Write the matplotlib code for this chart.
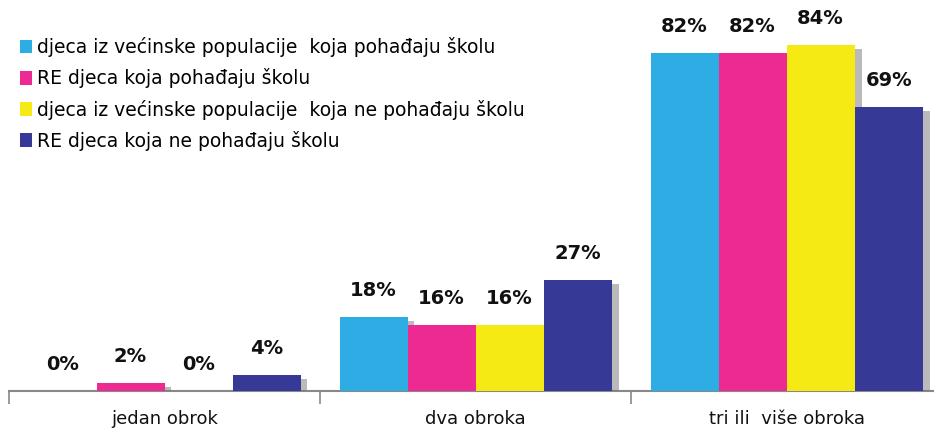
import matplotlib
matplotlib.use("Agg")
import matplotlib.pyplot as plt
import matplotlib.patheffects as pe
from matplotlib.patches import Patch
import numpy as np

categories = ["jedan obrok", "dva obroka", "tri ili  više obroka"]
series_names = [
    "djeca iz većinske populacije  koja pohađaju školu",
    "RE djeca koja pohađaju školu",
    "djeca iz većinske populacije  koja ne pohađaju školu",
    "RE djeca koja ne pohađaju školu",
]
values = [
    [0, 18, 82],
    [2, 16, 82],
    [0, 16, 84],
    [4, 27, 69],
]
colors = ["#2EADE4", "#EC2A91", "#F5EA14", "#373996"]

plt.rcParams['font.family'] = ['DejaVu Sans']

fig = plt.figure(figsize=(9.34, 4.28), dpi=100)
ax = fig.add_axes([9/934, 37/428, 925/934, 391/428])

x = np.arange(len(categories))
w = 68/311
for i, (name, vals, c) in enumerate(zip(series_names, values, colors)):
    pos = x + (i - 1.5) * w
    bars = ax.bar(pos, vals, width=w, color=c, linewidth=0, zorder=3)
    for b, v in zip(bars, vals):
        if v > 0:
            b.set_path_effects([pe.SimplePatchShadow(offset=(5, -3), shadow_rgbFace='#777777', alpha=0.5), pe.Normal()])
        ax.annotate(f"{v}%", (b.get_x() + b.get_width()/2, v), xytext=(0, 19),
                    textcoords='offset points', ha='center', va='center',
                    fontsize=14, fontweight='bold', color='#111111', zorder=4)

ax.set_xlim(-0.5, 2.474)
ax.set_ylim(0, 391/4.12)
for s in ['top', 'right', 'left']:
    ax.spines[s].set_visible(False)
ax.spines['bottom'].set_color('#888888')
ax.spines['bottom'].set_linewidth(1.5)
ax.set_yticks([])
ax.set_xticks(x)
ax.set_xticklabels(categories, fontsize=13, color='#111111')
ax.tick_params(axis='x', which='major', length=0, pad=14)
ax.set_xticks([-0.5, 0.5, 1.5], minor=True)
ax.tick_params(axis='x', which='minor', length=9, width=1.2, color='#888888', direction='out')

handles = [Patch(facecolor=c, linewidth=0) for c in colors]
leg = fig.legend(handles=handles, labels=series_names, loc='upper left',
                 bbox_to_anchor=(20/934, 1 - 37/428), frameon=False, fontsize=13.5,
                 handlelength=0.65, handleheight=0.75, handletextpad=0.25,
                 labelspacing=0.6, borderaxespad=0, borderpad=0)

fig.savefig("out.png", dpi=100)
